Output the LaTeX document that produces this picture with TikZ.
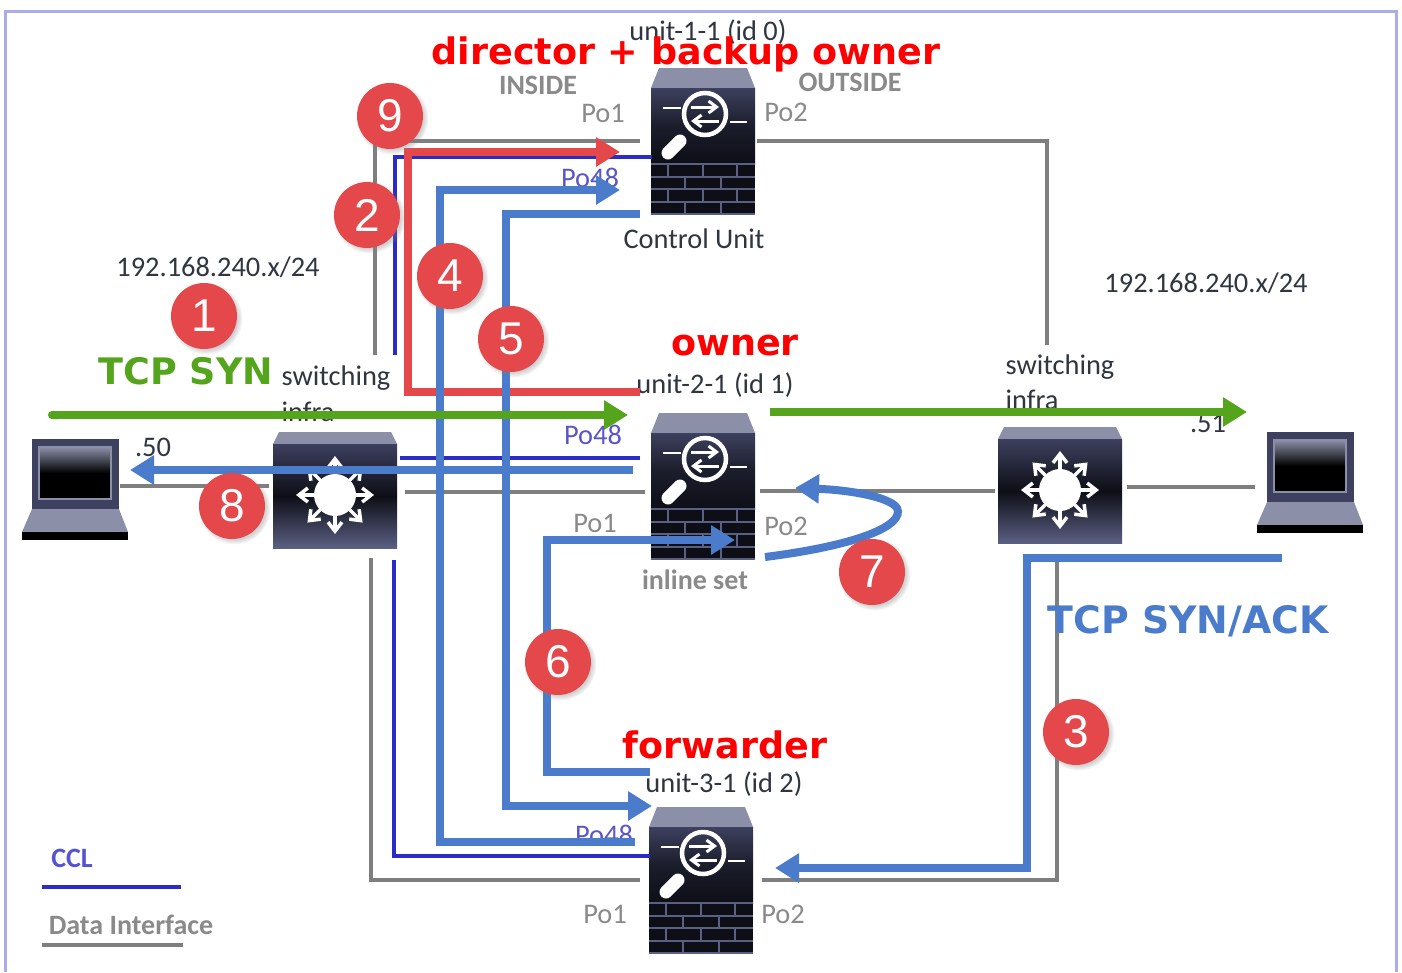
\documentclass[tikz,border=0pt]{standalone}
\usepackage{fontspec}
\setmainfont{Carlito}
\newfontfamily\headfont{DejaVu Sans}
\newfontfamily\badgefont{Liberation Sans}
\usetikzlibrary{arrows.meta,shadows}
\definecolor{framecol}{HTML}{A9AEE8}
\definecolor{datacol}{HTML}{7F7F7F}
\definecolor{cclcol}{HTML}{2B2BC8}
\definecolor{redflow}{HTML}{E5484A}
\definecolor{blueflow}{HTML}{4A7CCB}
\definecolor{greenflow}{HTML}{55A51C}
\definecolor{portcol}{HTML}{8A8A8A}
\definecolor{pofourcol}{HTML}{5A55C8}
\definecolor{textcol}{HTML}{303540}
\definecolor{iconcap}{HTML}{8B8FA8}
\definecolor{icontop}{HTML}{3D405E}
\definecolor{iconlow}{HTML}{5B5F82}
\definecolor{icondark}{HTML}{0D0E16}
\tikzset{
  x=1pt,y=-1pt,
  iconbox/.style={minimum width=#1,minimum height=100pt,inner sep=0pt,outer sep=0pt},
  dataline/.style={datacol,line width=4pt},
  cclline/.style={cclcol,line width=3.5pt},
  redarrow/.style={redflow,line width=8pt,-{Triangle[length=24pt,width=28pt]}},
  bluearrow/.style={blueflow,line width=8pt,-{Triangle[length=24pt,width=28pt]}},
  greenarrow/.style={greenflow,line width=8pt,-{Triangle[length=24pt,width=28pt]}},
  badge/.style={circle,fill=redflow,text=white,minimum size=66pt,inner sep=0pt,
    font=\badgefont\fontsize{46}{46}\selectfont,circular drop shadow={shadow xshift=2pt,shadow yshift=-2pt,opacity=.35}},
  plain/.style={text=textcol,font=\fontsize{28.4}{30}\selectfont,inner sep=0pt},
  port/.style={text=portcol,font=\fontsize{28.4}{30}\selectfont,inner sep=0pt},
  sidelabel/.style={text=portcol,font=\bfseries\fontsize{28}{30}\selectfont,inner sep=0pt},
  role/.style={text=red,font=\headfont\bfseries\fontsize{36.5}{38}\selectfont,inner sep=0pt},
  firewall/.pic={
    \fill[iconcap] (-44,-73) -- (44,-73) -- (52,-53) -- (-52,-53) -- cycle;
    \shade[top color=icontop,bottom color=icondark,middle color=icondark!70!icontop] (-52,-53) rectangle (52,23);
    \fill[icondark] (-52,23) rectangle (52,74);
    \draw[white,line width=4.5pt] (2,-27) circle (21);
    \draw[white,line width=2.5pt] (-40,-33) -- (-22,-33) (27,-19) -- (44,-19);
    \draw[white,line width=3pt,-{Straight Barb[length=8pt,width=12pt]}] (-12,-34) -- (16,-34);
    \draw[white,line width=3pt,-{Straight Barb[length=8pt,width=12pt]}] (16,-20) -- (-12,-20);
    \draw[white,line width=13pt,line cap=round] (-23,0) -- (-35,12);
    \foreach \y in {23,36,48,61,73} \draw[iconlow,line width=2pt] (-52,\y) -- (52,\y);
    \foreach \x in {-35,0,34} \draw[iconlow,line width=2pt] (\x,23) -- (\x,36) (\x,48) -- (\x,61);
    \foreach \x in {-18,18} \draw[iconlow,line width=2pt] (\x,36) -- (\x,48) (\x,61) -- (\x,73);
  },
  switchicon/.pic={
    \fill[iconcap] (-56,-58) -- (56,-58) -- (62,-46) -- (-62,-46) -- cycle;
    \shade[top color=icontop,bottom color=iconlow,middle color=icondark] (-62,-46) rectangle (62,58);
    \fill[white] (0,5) circle (21);
    \foreach \a in {0,45,...,315}
      \draw[white,line width=3.5pt,-{Straight Barb[length=9pt,width=14pt]}] (0,5) ++(\a:18) -- ++(\a:21);
  },
  laptop/.pic={
    \fill[icontop] (-43,-51) rectangle (44,19);
    \shade[top color=iconcap,bottom color=black,middle color=black] (-36,-43) rectangle (36,9);
    \draw[iconcap,line width=1.5pt] (-36,-43) rectangle (36,9);
    \fill[iconcap] (-43,19) -- (44,19) -- (53,42) -- (-53,42) -- cycle;
    \fill[black] (-53,42) rectangle (53,50);
  }
}
\begin{document}
\begin{tikzpicture}
\useasboundingbox (0,0) rectangle (1402,972);
\fill[white] (0,0) rectangle (1402,972);
\draw[framecol,line width=3pt] (5,972) -- (5,11) -- (1396,11) -- (1396,972);
% icons
\foreach \n/\x/\y in {unit1/703/141,unit2/703/486,unit3/701/880}
\node[iconbox=103pt,minimum height=147pt](\n) at(\x,\y){} pic at(\n) {firewall};
\foreach \n/\x/\y/\s in {swL/335/486/4,swR/1060/487/-2}
\node[iconbox=124pt](\n) at(\x,\y){} pic at(\x,\y+\s) {switchicon};
\foreach \n/\x/\y/\s in {lapL/75/486/4,lapR/1310/487/-4}
\node[iconbox=106pt](\n) at(\x,\y){} pic at(\x,\y+\s) {laptop};
% bends and free ends
\foreach \n/\x/\y in {dtopL/375/355,dtopR/1047/345,dbotL/371/558,dbotR/1057/560,dmidL/405/492,dmidR/760/491,
  ctop/395/355,ctopB/395/157,cmid/400/458,cbot/394/560,cbotB/394/856,
  r1/640/392,r2/408/392,r3/408/152,r4/620/152,
  a1/635/842,a2/440/842,a3/440/190,a4/620/190,
  b1/640/214,b2/506/214,b3/506/806,b4/652/806,
  e1/650/772,e2/547/772,e3/547/540,e4/735/540,
  s1/765/557,s2/795/488,
  w1/633/470,w2/130/470,
  t1/1282/558,t2/1027/558,t3/1027/868,t4/775/868,
  g1/48/415,g2/628/415,g3/770/412,g4/1247/412}
\coordinate (\n) at(\x,\y);
% text under the lines
\foreach \n/\x/\y/\t in {tUnitA/708/32/unit-1-1 (id 0),tUnitB/715/385/unit-2-1 (id 1),tUnitC/724/784/unit-3-1 (id 2),
  tNetL/218/267/{192.168.240.x/24},tNetR/1206/283/{192.168.240.x/24},tCtl/694/239/Control Unit,
  tSwA/336/378/switching,tInA/308/412/infra,tSwB/1060/367/switching,tInB/1032/400/infra,tDotA/153/447/.50,tDotB/1208/423/.51}
\node[plain](\n) at(\x,\y){\t};
\foreach \n/\x/\y/\t in {pA/603/113/Po1,pB/786/112/Po2,pC/595/523/Po1,pD/786/526/Po2,pE/605/914/Po1,pF/783/914/Po2}
\node[port](\n) at(\x,\y){\t};
\foreach \n/\x/\y in {qA/590/178,qB/593/435,qC/604/835}
\node[port,text=pofourcol](\n) at(\x,\y){Po48};
\foreach \n/\x/\y/\t in {sInside/538/85/INSIDE,sOutside/850/82/OUTSIDE,sInline/695/580/inline set,sData/131/925/Data Interface}
\node[sidelabel](\n) at(\x,\y){\t};
\node[sidelabel,text=cclcol!80!white](sCcl) at(72,858){CCL};
% data interface and ccl
\draw[dataline,shorten >=12pt] (dtopL) |- (unit1.west);
\draw[dataline,shorten <=2pt] (unit1.east) -| (dtopR);
\draw[dataline,shorten >=10pt] (dbotL) |- (unit3.west);
\draw[dataline,shorten <=9pt] (unit3.east) -| (dbotR);
\draw[dataline,shorten <=-8pt,shorten >=4pt] (lapL.east) -- (swL.west);
\draw[dataline,shorten >=7pt] (dmidL) -- (dmidL -| unit2.west);
\draw[dataline,shorten >=3pt] (dmidR) -- (dmidR -| swR.west);
\draw[dataline,shorten <=5pt,shorten >=2pt] (swR.east) -- (lapR.west);
\draw[cclline] (ctop) -- (ctopB) -- (ctopB -| unit1.west);
\draw[cclline,shorten >=12pt] (cmid) -- (cmid -| unit2.west);
\draw[cclline] (cbot) -- (cbotB) -- (cbotB -| unit3.west);
% flows
\draw[redarrow] (r1) -- (r2) -- (r3) -- (r4);
\draw[bluearrow] (a1) -- (a2) -- (a3) -- (a4);
\draw[bluearrow] (b1) -- (b2) -- (b3) -- (b4);
\draw[bluearrow] (e1) -- (e2) -- (e3) -- (e4);
\draw[bluearrow] (s1) .. controls (860,545) and (905,525) .. (897,508) .. controls (890,497) and (850,490) .. (s2);
\draw[bluearrow] (w1) -- (w2);
\draw[bluearrow] (t1) -- (t2) -- (t3) -- (t4);
\draw[greenarrow,{Round Cap[]}-{Triangle[length=24pt,width=28pt]}] (g1) -- (g2);
\draw[greenarrow] (g3) -- (g4);
% step numbers and roles
\foreach \n/\x/\y in {1/204/316,2/367/215,3/1076/732,4/450/276,5/511/339,6/558/662,7/872/572,8/232/506,9/390/116}
\node[badge](step\n) at(\x,\y){\n};
\foreach \n/\x/\y/\t in {rDirector/686/54/director + backup owner,rOwner/735/346/owner,rForwarder/725/745/forwarder}
\node[role](\n) at(\x,\y){\t};
\node[role,text=greenflow](rSyn) at(186,371){TCP SYN};
\node[role,text=blueflow,font=\headfont\bfseries\fontsize{37.8}{40}\selectfont](rAck) at(1188,621){TCP SYN/ACK};
% legend
\coordinate (legA) at(42,887);
\coordinate (legB) at(181,887);
\coordinate (legC) at(42,945);
\coordinate (legD) at(183,945);
\draw[cclline] (legA) -- (legB);
\draw[dataline] (legC) -- (legD);
\end{tikzpicture}
\end{document}
